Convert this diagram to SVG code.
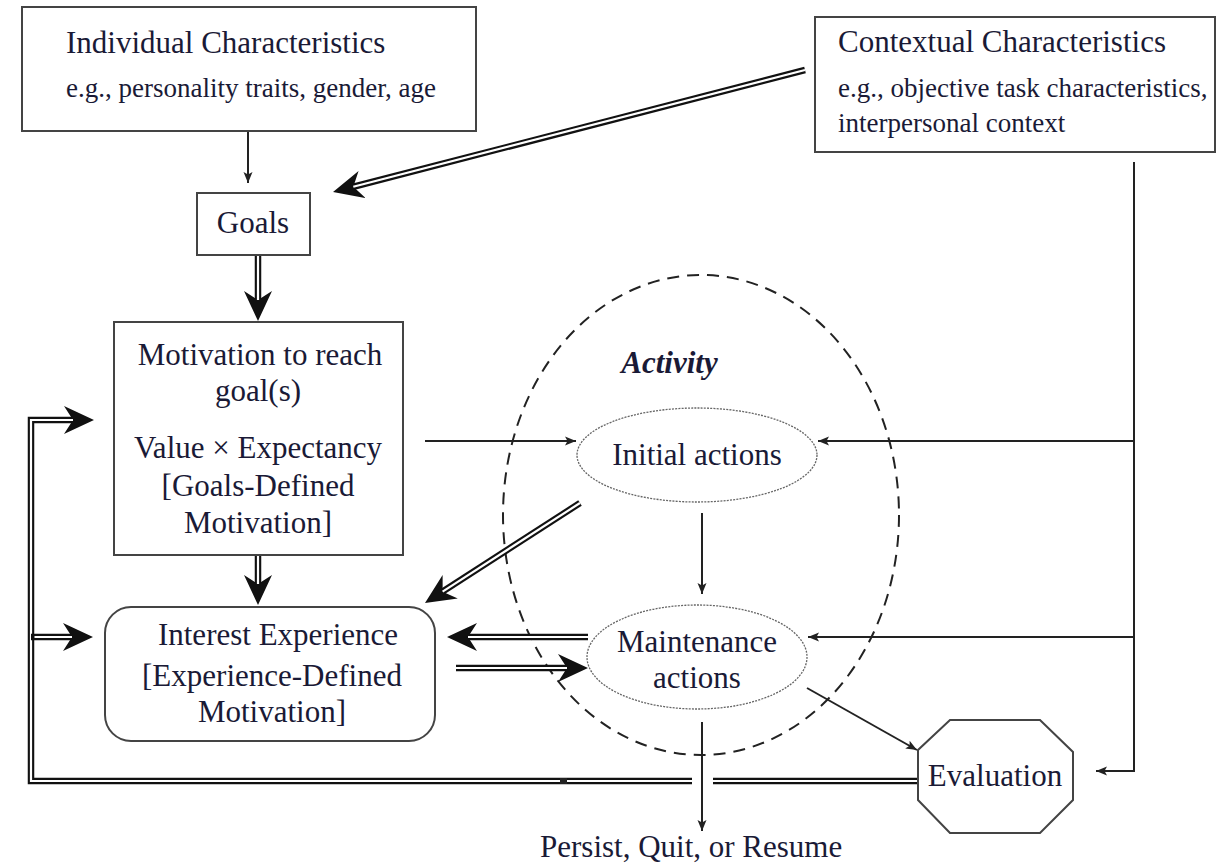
<svg xmlns="http://www.w3.org/2000/svg" width="1218" height="863" viewBox="0 0 1218 863">
<defs>
<marker id="ah" markerUnits="userSpaceOnUse" markerWidth="12" markerHeight="10" refX="11" refY="5" orient="auto"><path d="M0,0.5 L11,5 L0,9.5 L2.5,5 Z" fill="#222"/></marker>
<marker id="big" markerUnits="userSpaceOnUse" markerWidth="31" markerHeight="29" refX="20" refY="14" orient="auto"><path d="M0,0 L30,14 L0,28 L9,14 Z" fill="#111"/></marker>
<style>
.t{font-family:"Liberation Serif","Times New Roman",serif;fill:#1a1a36;font-size:31px}
.s{font-size:27px}
.m{text-anchor:middle}
.box{fill:#fff;stroke:#444;stroke-width:2}
.ln{fill:none;stroke:#222;stroke-width:2}
.db{fill:none;stroke:#111;stroke-width:6.5}
.dw{fill:none;stroke:#fff;stroke-width:2.2}
.act{fill:#fff;stroke:#666;stroke-width:1.3;stroke-dasharray:2 1.2}
</style>
</defs>
<rect width="1218" height="863" fill="#fff"/>

<g id="activity">
<ellipse cx="701" cy="515" rx="198" ry="240" fill="none" stroke="#222" stroke-width="2" stroke-dasharray="12 8"/>
<text class="t m" x="669.5" y="373" font-weight="bold" font-style="italic" font-size="30">Activity</text>
</g>

<g id="connectors">
<!-- single arrows -->
<path class="ln" d="M248,131 L248,183" marker-end="url(#ah)"/>
<path class="ln" d="M425,441 L576,441" marker-end="url(#ah)"/>
<path class="ln" d="M1134,162 L1134,771 L1096,771" marker-end="url(#ah)"/>
<path class="ln" d="M1134,441 L818,441" marker-end="url(#ah)"/>
<path class="ln" d="M1134,637 L808,637" marker-end="url(#ah)"/>
<path class="ln" d="M702,513 L702,594" marker-end="url(#ah)"/>
<path class="ln" d="M807,688 L917,750" stroke-width="2.8" marker-end="url(#ah)"/>
<path class="ln" d="M702,722 L702,831" marker-end="url(#ah)"/>

<!-- double arrows -->
<path class="db" d="M805,70 L342.7,189.5" marker-end="url(#big)"/>
<path class="dw" d="M805,70 L353.3,186.7"/>

<path class="db" d="M258,255 L258,311" marker-end="url(#big)"/>
<path class="dw" d="M258,255 L258,300"/>

<path class="db" d="M258,556 L258,595" marker-end="url(#big)"/>
<path class="dw" d="M258,556 L258,584"/>

<path class="db" d="M580,503 L433.4,597.6" marker-end="url(#big)"/>
<path class="dw" d="M580,503 L442.6,591.6"/>

<path class="db" d="M588,637 L457,637" marker-end="url(#big)"/>
<path class="dw" d="M588,637 L468,637"/>

<path class="db" d="M456,668 L578,668" marker-end="url(#big)"/>
<path class="dw" d="M456,668 L567,668"/>

<!-- feedback loop -->
<path class="db" d="M918,781 L713,781"/>
<path class="dw" d="M918,781 L713,781"/>
<path class="db" d="M692,781 L31,781 L31,420 L84,420" marker-end="url(#big)"/>
<path class="dw" d="M692,781 L31,781 L31,420 L73,420"/>
<path class="db" d="M31,637 L83,637" marker-end="url(#big)"/>
<path class="dw" d="M34.5,637 L72,637"/>
<rect x="560" y="778" width="7" height="6" fill="#222"/>
</g>

<g id="individual">
<rect class="box" x="22" y="7" width="454" height="124"/>
<text class="t" x="66" y="53">Individual Characteristics</text>
<text class="t s" x="66" y="97">e.g., personality traits, gender, age</text>
</g>

<g id="contextual">
<rect class="box" x="815" y="17" width="400" height="135"/>
<text class="t" x="838" y="52">Contextual Characteristics</text>
<text class="t s" x="838" y="97">e.g., objective task characteristics,</text>
<text class="t s" x="838" y="132">interpersonal context</text>
</g>

<g id="goals">
<rect class="box" x="197" y="193" width="113" height="62" stroke="#222"/>
<text class="t m" x="253" y="233">Goals</text>
</g>

<g id="motivation">
<rect class="box" x="114" y="322" width="289" height="233" stroke="#222"/>
<text class="t m" x="260" y="365">Motivation to reach</text>
<text class="t m" x="258" y="401">goal(s)</text>
<text class="t m" x="258" y="458">Value × Expectancy</text>
<text class="t m" x="258" y="496">[Goals-Defined</text>
<text class="t m" x="258" y="533">Motivation]</text>
</g>

<g id="interest">
<rect class="box" x="105" y="607" width="330" height="134" rx="26" ry="26"/>
<text class="t m" x="278" y="645">Interest Experience</text>
<text class="t m" x="272" y="686">[Experience-Defined</text>
<text class="t m" x="272" y="722">Motivation]</text>
</g>

<g id="initial">
<ellipse class="act" cx="697" cy="455" rx="120" ry="47"/>
<text class="t m" x="697" y="465">Initial actions</text>
</g>

<g id="maintenance">
<ellipse class="act" cx="697" cy="657" rx="110" ry="52"/>
<text class="t m" x="697" y="652">Maintenance</text>
<text class="t m" x="697" y="688">actions</text>
</g>

<g id="evaluation">
<polygon class="box" points="950,720 1040,720 1073,752 1073,800 1040,833 950,833 918,800 918,750"/>
<text class="t m" x="995" y="786">Evaluation</text>
</g>

<g id="outcome">
<text class="t" x="540" y="857">Persist, Quit, or Resume</text>
</g>
</svg>
